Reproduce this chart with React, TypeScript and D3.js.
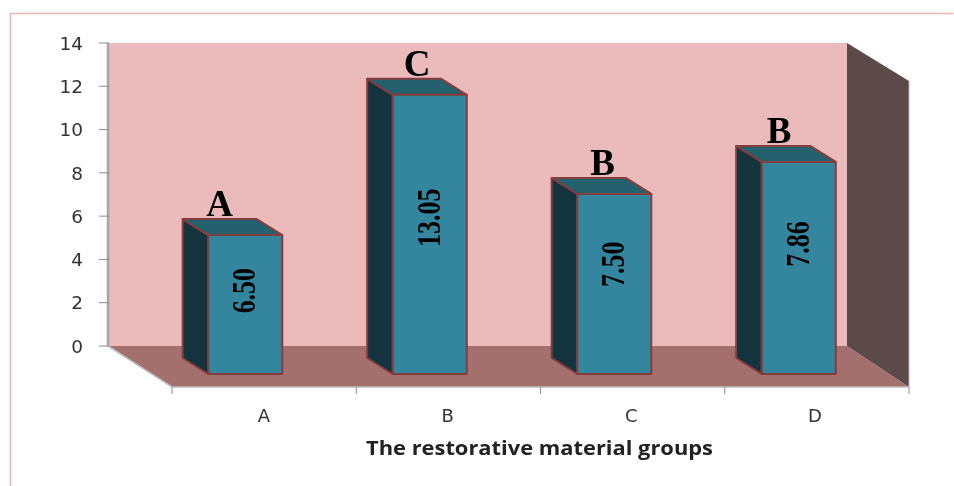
import React from "react";
import * as d3 from "d3";

const categories = ["A", "B", "C", "D"];
const barValues = [6.42, 12.9, 8.32, 9.8];
const valueLabels = ["6.50", "13.05", "7.50", "7.86"];
const letters = ["A", "C", "B", "B"];
const yTicks = [0, 2, 4, 6, 8, 10, 12, 14];
const labelFrac = [0.4, 0.44, 0.39, 0.387];
const letterShift = [37, 50, 51, 43];

const W = 954, H = 486;
const wallL = 109, wallR = 847, wallT = 43, wallB = 346;
const depthX = 63, depthY = 41;
const barW = 74;
const backFrac = 12 / 41, frontFrac = 28 / 41;

export default function App() {
  const y = d3.scaleLinear().domain([0, 14]).range([wallB, wallT]);
  const band = d3.scaleBand<string>().domain(categories).range([wallL, wallR]);
  const cx = (c: string) => band(c)! + band.bandwidth() / 2;
  const edges = d3.range(5).map(i => wallL + depthX + i * 184.25);
  const pts = (p: number[][]) => p.map(q => q.join(",")).join(" ");
  const edge = "#853c3c";
  return (
    <svg width={W} height={H} style={{ position: "fixed", left: 0, top: 0, display: "block", filter: "blur(0.5px)" }}>
      <rect width={W} height={H} fill="#fff" />
      <path d="M10.5,486V13.5H953.5" fill="none" stroke="#eeb4b4" strokeWidth={1.5} />
      <rect x={wallL} y={wallT} width={wallR - wallL} height={wallB - wallT} fill="#ebbaba" />
      <polygon fill="#a4706e" points={pts([[wallL, wallB], [wallR, wallB], [wallR + depthX - 1, wallB + depthY], [wallL + depthX, wallB + depthY]])} />
      <polygon fill="#5c4a48" points={pts([[wallR, wallT], [wallR + depthX - 1, wallT + depthY - 3], [wallR + depthX - 1, wallB + depthY], [wallR, wallB]])} />
      <line x1={wallR + depthX - 1} x2={wallR + depthX - 1} y1={wallT + depthY - 3} y2={wallB + depthY} stroke="#b9b0ae" strokeWidth={1} />
      <path d={`M${wallL - 1},${wallT}V${wallB}`} fill="none" stroke="#a6a6a6" strokeWidth={2.5} />
      <path d={`M${wallL - 1},${wallB}L${wallL + depthX},${wallB + depthY}H${wallR + depthX - 1}`} fill="none" stroke="#bdbdbd" strokeWidth={1.5} />
      {yTicks.map(t => (
        <g key={t}>
          <line x1={wallL - 10} x2={wallL} y1={y(t)} y2={y(t)} stroke="#8c8c8c" />
          <text x={83} y={y(t)} dy="0.36em" textAnchor="end" fontFamily="'DejaVu Sans', sans-serif" fontSize={18.5} fill="#333">{t}</text>
        </g>
      ))}
      {edges.map((x, i) => <line key={i} x1={x} x2={x} y1={wallB + depthY} y2={wallB + depthY + 7} stroke="#8c8c8c" />)}
      {categories.map((c, i) => {
        const x0 = cx(c) - barW / 2;
        const fx = x0 + depthX * frontFrac + 1, bx = x0 + depthX * backFrac;
        const base = wallB + depthY * frontFrac, baseB = wallB + depthY * backFrac;
        const h = y(0) - y(barValues[i]);
        const top = base - h, topB = baseB - h;
        return (
          <g key={c} stroke={edge} strokeWidth={2} strokeLinejoin="round">
            <polygon fill="#13343f" points={pts([[bx, topB], [fx, top], [fx, base], [bx, baseB]])} />
            <polygon fill="#24616f" points={pts([[bx, topB], [bx + barW, topB], [fx + barW, top], [fx, top]])} />
            <rect x={fx} y={top} width={barW} height={h} fill="#34869e" />
            <text stroke="none" transform={`translate(${fx + barW / 2 + 10},${top + h * labelFrac[i]}) rotate(-90) scale(1,1.3)`} textAnchor="middle" fontFamily="'Liberation Serif', serif" fontWeight="bold" fontSize={26} fill="#000">{valueLabels[i]}</text>
            <text stroke="none" x={bx + letterShift[i]} y={topB - 3} textAnchor="middle" fontFamily="'Liberation Serif', serif" fontWeight="bold" fontSize={37} fill="#000">{letters[i]}</text>
            <text stroke="none" x={edges[i] + 92 - i * 0.6} y={422} textAnchor="middle" fontFamily="'DejaVu Sans', sans-serif" fontSize={18} fill="#333">{c}</text>
          </g>
        );
      })}
      <text x={539.5} y={455} textAnchor="middle" textLength={347} lengthAdjust="spacingAndGlyphs" fontFamily="'Open Sans', sans-serif" fontWeight="bold" fontSize={19} fill="#222">The restorative material groups</text>
    </svg>
  );
}
